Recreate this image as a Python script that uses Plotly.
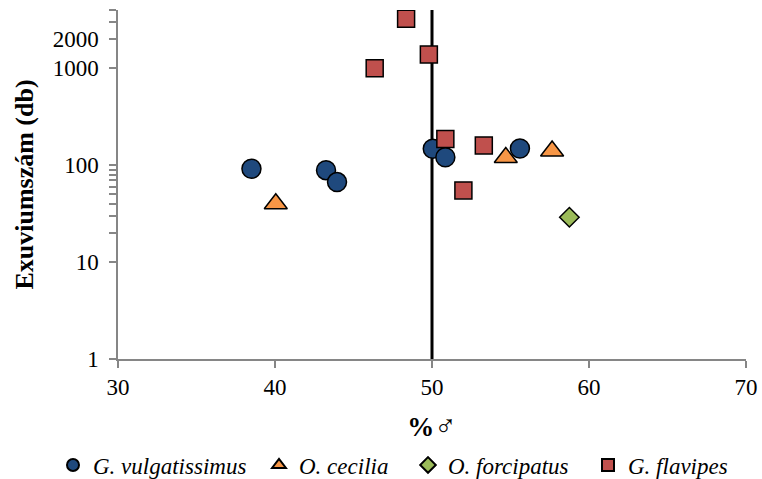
import plotly.graph_objects as go

# Share of males (%) and exuvia counts per site, by species
gv_pct = [38.5, 43.25, 43.95, 50.05, 50.85, 55.6]
gv_cnt = [92, 89, 67, 148, 121, 149]

oc_pct = [40.05, 54.7, 57.65]
oc_cnt = [40, 120, 140]

of_pct = [58.75]
of_cnt = [29]

gf_pct = [48.35, 49.8, 46.35, 50.85, 53.3, 52.0]
gf_cnt = [3240, 1390, 1000, 187, 160, 55]

x_ticks = [30, 40, 50, 60, 70]
y_major = [1, 10, 100, 1000, 2000]
y_minor = [20, 30, 40, 50, 60, 70, 80, 90, 3000, 4000]

AXIS = "#868686"
SERIF = "Liberation Serif"
W, H = 762, 479

fig = go.Figure()

# name, x, y, symbol, colour, marker size, legend id, legend left edge (px)
series = [
    ("G. vulgatissimus", gv_pct, gv_cnt, "circle", "#1F497D", 19, "legend", 53),
    ("O. cecilia", oc_pct, oc_cnt, "triangle-up", "#F79646", 20, "legend2", 259),
    ("O. forcipatus", of_pct, of_cnt, "diamond", "#9BBB59", 15, "legend3", 408),
    ("G. flavipes", gf_pct, gf_cnt, "square", "#C0504D", 17, "legend4", 588),
]
legends = {}
for name, xs, ys, sym, col, size, leg, left in series:
    fig.add_trace(go.Scatter(
        x=xs, y=ys, mode="markers", name="<i>%s</i>" % name, legend=leg,
        marker=dict(symbol=sym, color=col, size=size,
                    line=dict(color="black", width=1.5)),
    ))
    legends[leg] = dict(
        orientation="h", xref="container", yref="container",
        x=left / W, y=(H - 465) / H, xanchor="left", yanchor="middle",
        itemsizing="constant", itemwidth=30, bgcolor="rgba(0,0,0,0)",
        font=dict(family=SERIF, size=23, color="black"),
    )

# 50 % reference line
fig.add_shape(type="line", xref="x", yref="y domain",
              x0=50, x1=50, y0=0, y1=1,
              line=dict(color="black", width=3), layer="below")

y_vals = y_major + y_minor
y_text = [str(v) for v in y_major] + [""] * len(y_minor)

fig.update_xaxes(
    range=[30, 70], tickvals=x_ticks, ticks="outside", ticklen=7,
    tickcolor=AXIS, tickwidth=1.5, showline=True, linecolor=AXIS,
    linewidth=1.5, showgrid=False, zeroline=False, automargin=True,
    tickfont=dict(family=SERIF, size=23, color="black"),
    title=dict(text="<b>%</b><span style='font-size:30px'>♂</span>",
               standoff=18,
               font=dict(family=SERIF, size=27, color="black")),
)
fig.update_yaxes(
    type="log", range=[0, 3.60206], tickvals=y_vals, ticktext=y_text,
    ticks="outside", ticklen=7, tickcolor=AXIS, tickwidth=1.5,
    showline=True, linecolor=AXIS, linewidth=1.5, showgrid=False,
    zeroline=False, ticklabelstandoff=6, automargin=False,
    tickfont=dict(family=SERIF, size=23, color="black"),
    title=dict(text="<b>Exuviumszám (db)</b>", standoff=12,
               font=dict(family=SERIF, size=26, color="black")),
)

fig.update_layout(
    width=W, height=H,
    font=dict(family=SERIF, color="black"),
    margin=dict(l=118, r=16, t=10, b=120, autoexpand=False),
    paper_bgcolor="white", plot_bgcolor="white",
    showlegend=True,
    **legends,
)

fig.write_html("out.html")
